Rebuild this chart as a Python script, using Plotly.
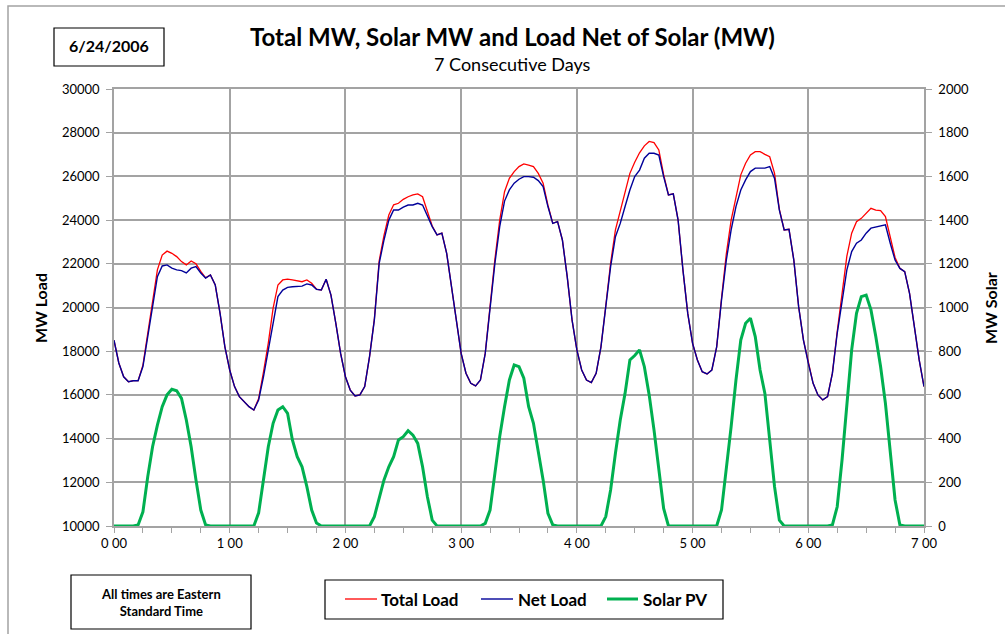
import plotly.graph_objects as go

# Hourly readings over seven consecutive days (x in days, 24 points per day + final point)
net_load = [
    # day 0
    18500, 17460, 16830, 16600, 16650, 16650, 17300, 18660, 20040, 21410, 21900, 21950,
    21800, 21720, 21690, 21580, 21800, 21870, 21580, 21350, 21490, 21030, 19730, 18200,
    # day 1
    17140, 16380, 15920, 15690, 15460, 15310, 15770, 16830, 18060, 19430, 20500, 20800,
    20920, 20950, 20950, 20980, 21080, 21030, 20830, 20800, 21290, 20570, 19280, 17900,
    # day 2
    16830, 16220, 15950, 16000, 16380, 17750, 19430, 22020, 23090, 24000, 24460, 24460,
    24590, 24690, 24690, 24770, 24690, 24160, 23700, 23320, 23400, 22480, 20950, 19280,
    # day 3
    17900, 16990, 16530, 16410, 16680, 17900, 20040, 22020, 23700, 24870, 25380, 25690,
    25870, 25990, 25990, 25960, 25810, 25530, 24620, 23850, 23930, 23090, 21410, 19430,
    # day 4
    18060, 17140, 16680, 16560, 16990, 18200, 20040, 21870, 23240, 23850, 24620, 25380,
    25990, 26290, 26830, 27060, 27060, 26980, 25990, 25150, 25200, 24000, 21720, 19730,
    # day 5
    18360, 17600, 17060, 16960, 17140, 18200, 20340, 22170, 23550, 24620, 25380, 25840,
    26220, 26380, 26380, 26380, 26450, 25910, 24460, 23550, 23580, 22170, 20040, 18510,
    # day 6
    17450, 16530, 16000, 15770, 15920, 16990, 18820, 20340, 21720, 22560, 22940, 23090,
    23400, 23630, 23670, 23730, 23780, 22940, 22170, 21790, 21640, 20650, 19130, 17600,
    16380,
]

total_load = [
    # day 0
    18500, 17460, 16830, 16600, 16650, 16655, 17365, 18890, 20400, 21720, 22400, 22580,
    22480, 22330, 22100, 21950, 22130, 22000, 21650, 21355, 21490, 21030, 19730, 18200,
    # day 1
    17140, 16380, 15920, 15690, 15460, 15310, 15830, 17040, 18370, 19970, 21030, 21260,
    21300, 21260, 21230, 21180, 21260, 21110, 20840, 20800, 21290, 20570, 19280, 17900,
    # day 2
    16830, 16220, 15950, 16000, 16380, 17750, 19470, 22140, 23300, 24230, 24700, 24770,
    24950, 25070, 25150, 25200, 25070, 24390, 23727, 23320, 23400, 22480, 20950, 19280,
    # day 3
    17900, 16990, 16530, 16410, 16680, 17912, 20110, 22200, 24000, 25300, 25910, 26220,
    26450, 26570, 26520, 26450, 26140, 25690, 24680, 23855, 23930, 23090, 21410, 19430,
    # day 4
    18060, 17140, 16680, 16560, 16990, 18200, 20080, 22030, 23550, 24400, 25300, 26140,
    26650, 27080, 27400, 27600, 27550, 27210, 26080, 25150, 25200, 24000, 21720, 19730,
    # day 5
    18360, 17600, 17060, 16960, 17140, 18200, 20410, 22460, 24000, 25070, 26070, 26600,
    26980, 27130, 27130, 27010, 26900, 26140, 24490, 23550, 23580, 22170, 20040, 18510,
    # day 6
    17450, 16530, 16000, 15770, 15920, 16995, 18900, 20650, 22350, 23400, 23930, 24080,
    24310, 24540, 24460, 24430, 24160, 23240, 22290, 21795, 21640, 20650, 19130, 17600,
    16380,
]

solar_pv = [
    0, 0, 0, 0, 0, 5, 65, 226, 363, 462, 546, 600, 626, 619, 584, 485, 363, 211, 73, 5, 0, 0, 0, 0,
    0, 0, 0, 0, 0, 0, 60, 211, 363, 470, 531, 546, 516, 394, 317, 271, 180, 73, 14, 0, 0, 0, 0, 0,
    0, 0, 0, 0, 0, 0, 43, 125, 211, 271, 317, 394, 409, 436, 416, 378, 271, 134, 27, 0, 0, 0, 0, 0,
    0, 0, 0, 0, 0, 12, 73, 241, 409, 546, 668, 737, 729, 676, 546, 470, 348, 211, 58, 5, 0, 0, 0, 0,
    0, 0, 0, 0, 0, 0, 43, 165, 333, 485, 607, 760, 780, 806, 729, 600, 440, 260, 80, 0, 0, 0, 0, 0,
    0, 0, 0, 0, 0, 0, 73, 256, 455, 668, 851, 928, 951, 867, 714, 607, 394, 180, 27, 0, 0, 0, 0, 0,
    0, 0, 0, 0, 0, 5, 88, 302, 561, 806, 973, 1050, 1057, 989, 867, 729, 561, 348, 119, 5, 0, 0, 0, 0,
    0,
]

days = [i / 24 for i in range(len(net_load))]
day_ticks = [0, 1, 2, 3, 4, 5, 6, 7]
day_labels = ["0 00", "1 00", "2 00", "3 00", "4 00", "5 00", "6 00", "7 00"]

W, H = 1005, 634
L, R, T, B = 114, 924, 89, 526   # plot area in pixels


def px(x):
    return (x - L) / (R - L)


def py(y):
    return (B - y) / (B - T)


FONT = "Lato, 'Open Sans', sans-serif"
GRID = "#A3A3A3"

fig = go.Figure()
fig.add_trace(go.Scatter(x=days, y=total_load, name="Total Load", mode="lines",
                         line=dict(color="#FF0000", width=1.3)))
fig.add_trace(go.Scatter(x=days, y=net_load, name="Net Load", mode="lines",
                         line=dict(color="#000099", width=1.4)))
fig.add_trace(go.Scatter(x=days, y=solar_pv, name="Solar PV", mode="lines", yaxis="y2",
                         line=dict(color="#00B050", width=3)))

fig.update_layout(
    width=W, height=H,
    margin=dict(l=L, r=W - R, t=T, b=H - B, autoexpand=False),
    paper_bgcolor="white", plot_bgcolor="white",
    showlegend=False,
    font=dict(family=FONT, size=13, color="#000000"),
    xaxis=dict(range=[0, 7], tickvals=day_ticks, ticktext=day_labels,
               ticks="outside", ticklen=5, tickcolor=GRID, tickwidth=1,
               showgrid=True, gridcolor=GRID, gridwidth=1.5,
               showline=True, linecolor=GRID, linewidth=1.5, mirror=True,
               zeroline=False, tickfont=dict(size=13),
               minor=dict(dtick=0.25, ticks="outside", ticklen=5, tickcolor=GRID,
                          showgrid=False)),
    yaxis=dict(range=[10000, 30000], dtick=2000, tickformat="d", ticks="outside",
               ticklen=6, tickcolor=GRID, showgrid=True, gridcolor=GRID, gridwidth=1.5,
               showline=True, linecolor=GRID, linewidth=1.5, zeroline=False,
               tickfont=dict(size=13), ticklabelstandoff=4),
    yaxis2=dict(range=[0, 2000], dtick=200, tickformat="d", overlaying="y", side="right",
                ticks="outside", ticklen=6, tickcolor=GRID, showgrid=False,
                showline=True, linecolor=GRID, linewidth=1.5, zeroline=False,
                tickfont=dict(size=13), ticklabelstandoff=4),
)

shapes = []
annotations = []

# outer chart frame
shapes.append(dict(type="rect", xref="paper", yref="paper",
                   x0=px(8), x1=px(1012), y0=py(642), y1=py(6),
                   line=dict(color=GRID, width=1.5)))

# title block
annotations.append(dict(text="<b>Total MW, Solar MW and Load Net of Solar (MW)</b>",
                        xref="paper", yref="paper", x=px(512), y=py(36),
                        xanchor="center", yanchor="middle", showarrow=False,
                        font=dict(size=24)))
annotations.append(dict(text="7 Consecutive Days", xref="paper", yref="paper",
                        x=px(512), y=py(64), xanchor="center", yanchor="middle",
                        showarrow=False, font=dict(size=18)))

# date box
shapes.append(dict(type="rect", xref="paper", yref="paper",
                   x0=px(54), x1=px(164), y0=py(66), y1=py(28),
                   line=dict(color="#000000", width=1.2)))
annotations.append(dict(text="<b>6/24/2006</b>", xref="paper", yref="paper",
                        x=px(109), y=py(46), xanchor="center", yanchor="middle",
                        showarrow=False, font=dict(size=16)))

# axis titles
annotations.append(dict(text="<b>MW Load</b>", xref="paper", yref="paper",
                        x=px(40), y=py(308), textangle=-90, xanchor="center",
                        yanchor="middle", showarrow=False, font=dict(size=16)))
annotations.append(dict(text="<b>MW Solar</b>", xref="paper", yref="paper",
                        x=px(990), y=py(308), textangle=-90, xanchor="center",
                        yanchor="middle", showarrow=False, font=dict(size=16)))

# time zone note
shapes.append(dict(type="rect", xref="paper", yref="paper",
                   x0=px(71), x1=px(251), y0=py(629), y1=py(575),
                   line=dict(color="#000000", width=1.2)))
annotations.append(dict(text="<b>All times are Eastern<br>Standard Time</b>",
                        xref="paper", yref="paper", x=px(161), y=py(602),
                        xanchor="center", yanchor="middle", showarrow=False,
                        font=dict(size=13)))

# legend box
shapes.append(dict(type="rect", xref="paper", yref="paper",
                   x0=px(325), x1=px(723), y0=py(619), y1=py(580),
                   line=dict(color="#000000", width=1.2)))
legend_items = [
    ("Total Load", "#FF0000", 1.3, 345, 377, 379),
    ("Net Load", "#000099", 1.4, 481, 513, 516),
    ("Solar PV", "#00B050", 3, 607, 638, 641),
]
for label, color, width, lx0, lx1, tx in legend_items:
    shapes.append(dict(type="line", xref="paper", yref="paper",
                       x0=px(lx0), x1=px(lx1), y0=py(599), y1=py(599),
                       line=dict(color=color, width=width)))
    annotations.append(dict(text=f"<b>{label}</b>", xref="paper", yref="paper",
                            x=px(tx), y=py(599), xanchor="left", yanchor="middle",
                            showarrow=False, font=dict(size=17)))

fig.update_layout(shapes=shapes, annotations=annotations)
fig.write_html("out.html")
